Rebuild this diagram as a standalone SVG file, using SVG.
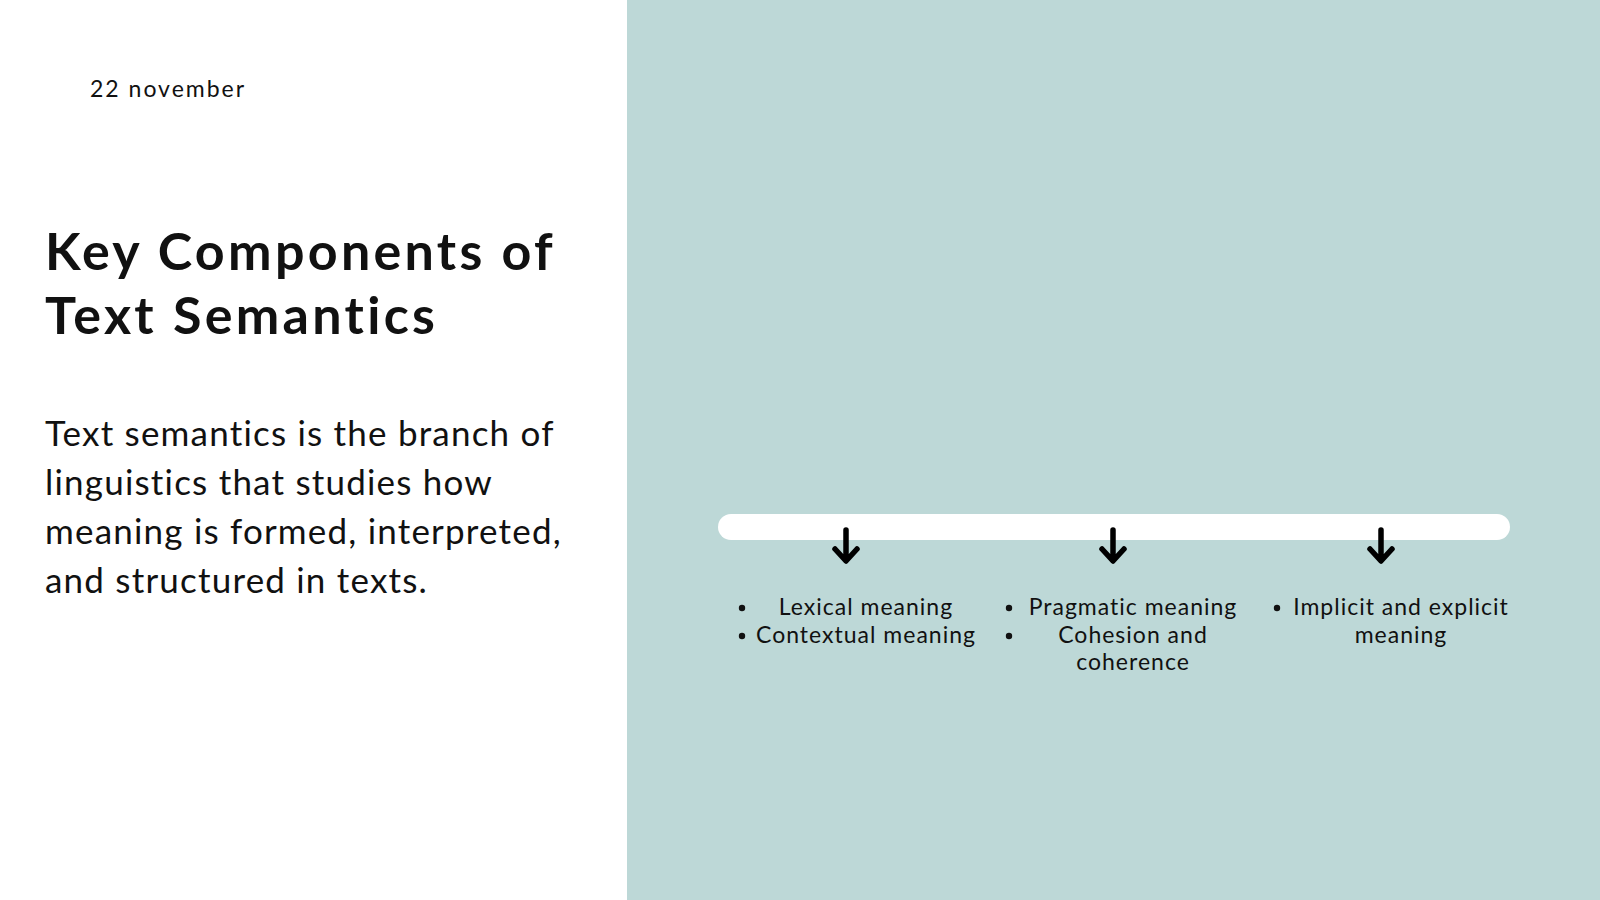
<svg xmlns="http://www.w3.org/2000/svg" width="1600" height="900" viewBox="0 0 1600 900">
<style>
text{font-family:Lato,"Open Sans","Liberation Sans",sans-serif;fill:#111}
.b{font-size:23px;letter-spacing:1px}
.m{text-anchor:middle}
</style>
<defs>
<g id="arr"><path d="M0,0 V30 M-11,19 L0,31 L11,19" stroke="#000" stroke-width="5.5" stroke-linecap="round" stroke-linejoin="round" fill="none"/></g>
</defs>
<rect width="1600" height="900" fill="#fff"/>
<rect x="627" y="0" width="973" height="900" fill="#bdd8d7"/>
<text x="90" y="97" font-size="23" letter-spacing="2">22 november</text>
<text x="45" y="270" font-size="52" font-weight="bold" letter-spacing="3.3">Key Components of</text>
<text x="45" y="334" font-size="52" font-weight="bold" letter-spacing="3.3">Text Semantics</text>
<g font-size="35" letter-spacing="1.2">
<text x="45" y="446">Text semantics is the branch of</text>
<text x="45" y="495">linguistics that studies how</text>
<text x="45" y="544">meaning is formed, interpreted,</text>
<text x="45" y="593">and structured in texts.</text>
</g>
<g id="connectors">
<rect id="bar" x="718" y="514" width="792" height="26" rx="13" fill="#fff"/>
<use href="#arr" x="846" y="530"/>
<use href="#arr" x="1113" y="530"/>
<use href="#arr" x="1381" y="530"/>
</g>
<g id="col1">
<circle cx="742" cy="608" r="3.2" fill="#111"/><circle cx="742" cy="636" r="3.2" fill="#111"/>
<text class="m b" x="866" y="615">Lexical meaning</text>
<text class="m b" x="866" y="643">Contextual meaning</text>
</g>
<g id="col2">
<circle cx="1009" cy="608" r="3.2" fill="#111"/><circle cx="1009" cy="636" r="3.2" fill="#111"/>
<text class="m b" x="1133" y="615">Pragmatic meaning</text>
<text class="m b" x="1133" y="643">Cohesion and</text>
<text class="m b" x="1133" y="670">coherence</text>
</g>
<g id="col3">
<circle cx="1277" cy="608" r="3.2" fill="#111"/>
<text class="m b" x="1401" y="615">Implicit and explicit</text>
<text class="m b" x="1401" y="643">meaning</text>
</g>
</svg>
